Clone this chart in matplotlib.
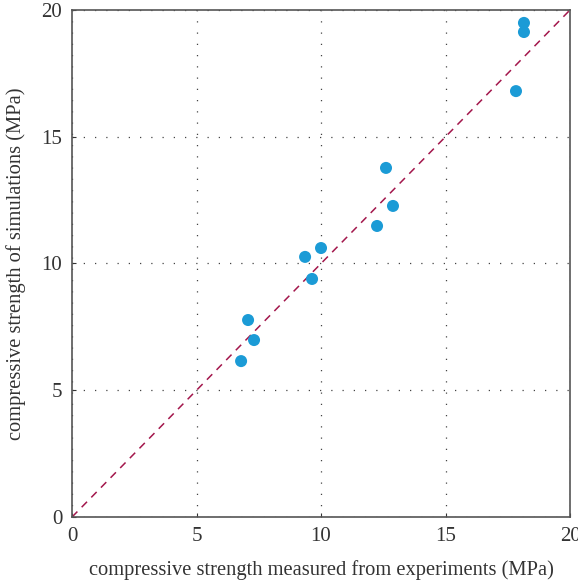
import matplotlib
matplotlib.use("Agg")
import matplotlib.pyplot as plt

x_exp = [6.79, 7.07, 7.31, 9.36, 9.64, 10.0, 12.25, 12.61, 12.89, 17.83, 18.15, 18.15]
y_sim = [6.15, 7.77, 6.98, 10.26, 9.39, 10.61, 11.48, 13.77, 12.27, 16.80, 19.49, 19.13]
ticks = [0, 5, 10, 15, 20]

plt.rcParams['font.family'] = ['Liberation Serif', 'DejaVu Serif']
fig = plt.figure(figsize=(5.78, 5.80), dpi=100)
ax = fig.add_axes([0.1246, 0.1086, 0.8616, 0.8742])
ax.plot([0, 20], [0, 20], linestyle=(0, (5, 4)), color='#a3174c', linewidth=1.1, zorder=2)
ax.scatter(x_exp, y_sim, s=75, color='#1b9bd6', zorder=3, edgecolors='none')
ax.set_xlim(0, 20)
ax.set_ylim(0, 20)
ax.set_xticks(ticks)
ax.set_yticks(ticks)
ax.grid(True, linestyle=(0, (1, 8)), color='#444444', linewidth=0.9)
ax.tick_params(direction='in', length=3, labelsize=15, colors='#333333', pad=7)
for s in ax.spines.values():
    s.set_color('#555555')
    s.set_linewidth(1.2)
ax.set_xlabel('compressive strength measured from experiments (MPa)', fontsize=14.8, color='#333333', labelpad=10)
ax.set_ylabel('compressive strength of simulations (MPa)', fontsize=14.8, color='#333333', labelpad=11)
fig.savefig('out.png', dpi=100)
